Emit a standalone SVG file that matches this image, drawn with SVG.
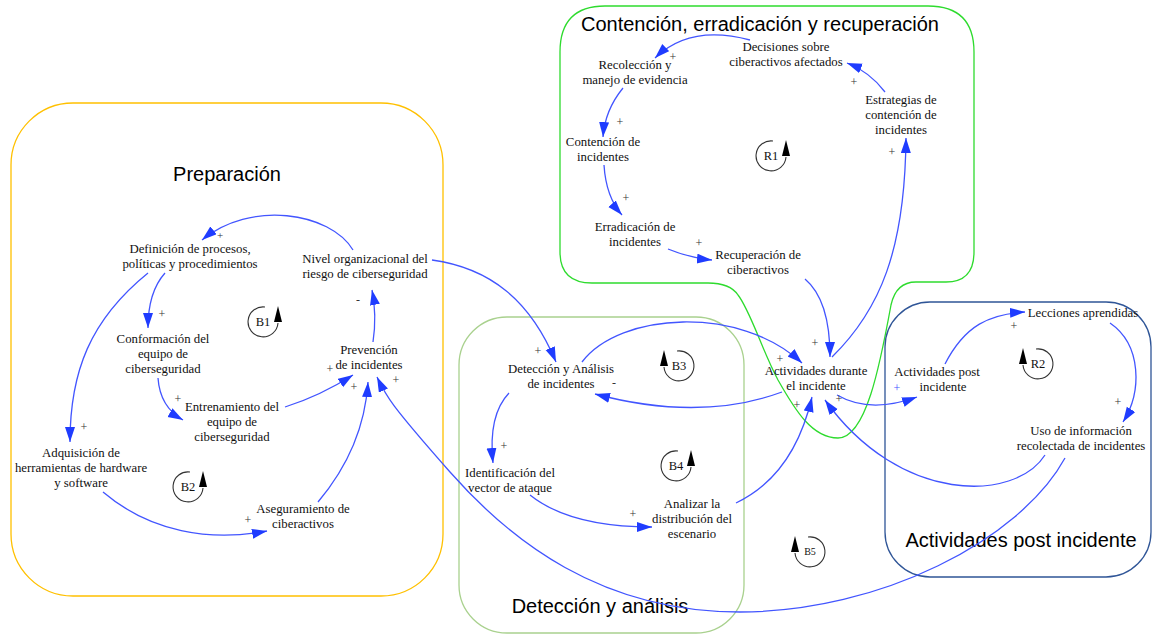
<svg xmlns="http://www.w3.org/2000/svg" width="1154" height="635" viewBox="0 0 1154 635">
<style>
.t{font-family:"Liberation Serif","Times New Roman",serif;font-size:12.8px;fill:#111;text-anchor:middle}
.ti{font-family:"Liberation Sans",Arial,sans-serif;font-size:20px;fill:#000;text-anchor:middle}
.c{fill:none;stroke:#4255ff;stroke-width:1.3;marker-end:url(#ah)}
.s{font-family:"Liberation Serif","Times New Roman",serif;font-size:12px;fill:#333;text-anchor:middle}
.lp{fill:none;stroke:#333;stroke-width:1.1}
.lt{font-family:"Liberation Serif","Times New Roman",serif;font-size:12.5px;fill:#111;text-anchor:middle}
</style>
<defs>
<marker id="ah" markerUnits="userSpaceOnUse" markerWidth="18" markerHeight="12" refX="15" refY="5" orient="auto">
<path d="M0,0 L15,5 L0,10 Z" fill="#1f3cff"/>
</marker>
<g id="loopR"><path class="lp" d="M 2,-15 A 15,15 0 1 0 15,1"/><path d="M 15,-16 L 11,0 L 19,0 Z" fill="#000"/></g>
<g id="loopL"><path class="lp" d="M -2,-15 A 15,15 0 1 1 -15,1"/><path d="M -15,-16 L -19,0 L -11,0 Z" fill="#000"/></g>
</defs>
<rect width="1154" height="635" fill="#fff"/>

<g id="boxes">
<rect x="11" y="103" width="432" height="493" rx="62" fill="none" stroke="#ffc000" stroke-width="1.3"/>
<path d="M 605,6 H 928 Q 974,6 974,52 V 252 Q 974,282 946,282 H 916 Q 896,282 891,305 C 880,365 866,438 838,438 C 812,438 795,410 778,380 C 762,350 750,310 738,295 Q 730,283 708,283 H 592 Q 560,283 560,252 V 52 Q 560,6 605,6 Z" fill="none" stroke="#2edb2e" stroke-width="1.3"/>
<rect x="459" y="317" width="285" height="316" rx="48" fill="none" stroke="#a9d18e" stroke-width="1.3"/>
<rect x="885" y="302" width="266" height="275" rx="45" fill="none" stroke="#2f5597" stroke-width="1.3"/>
<text class="ti" x="760" y="31">Contención, erradicación y recuperación</text>
<text class="ti" x="227" y="181">Preparación</text>
<text class="ti" x="600" y="613">Detección y análisis</text>
<text class="ti" x="1021" y="547">Actividades post incidente</text>
</g>

<g id="connectors">
<path class="c" d="M 750,40 Q 690,24 655,58"/>
<path class="c" d="M 623,88 Q 605,110 603,137"/>
<path class="c" d="M 604,165 Q 606,197 622,215"/>
<path class="c" d="M 668,249 Q 690,258 712,260"/>
<path class="c" d="M 805,279 Q 830,300 830,357"/>
<path class="c" d="M 832,357 C 880,310 905,250 906,138"/>
<path class="c" d="M 885,92 Q 870,72 847,63"/>
<path class="c" d="M 582,362 C 620,312 740,305 802,363"/>
<path class="c" d="M 782,392 Q 700,422 595,394"/>
<path class="c" d="M 432,260 C 490,268 530,300 556,362"/>
<path class="c" d="M 509,393 Q 488,415 493,463"/>
<path class="c" d="M 530,495 Q 570,527 652,527"/>
<path class="c" d="M 736,503 C 780,482 802,440 812,397"/>
<path class="c" d="M 837,395 Q 870,414 917,397"/>
<path class="c" d="M 945,364 C 965,325 990,314 1025,312"/>
<path class="c" d="M 1110,323 C 1142,345 1142,392 1123,422"/>
<path class="c" d="M 1045,455 C 1015,502 900,505 825,400"/>
<path class="c" d="M 1065,458 C 1020,540 880,612 740,612 S 510,540 450,472 S 386,396 377,377"/>
<path class="c" d="M 353,250 C 330,212 250,200 202,240"/>
<path class="c" d="M 165,273 Q 148,292 148,328"/>
<path class="c" d="M 148,273 C 90,320 70,372 70,442"/>
<path class="c" d="M 158,378 Q 160,407 183,420"/>
<path class="c" d="M 285,407 Q 320,396 353,375"/>
<path class="c" d="M 373,342 Q 377,315 372,290"/>
<path class="c" d="M 103,492 C 150,532 210,542 267,531"/>
<path class="c" d="M 318,502 C 345,470 365,430 368,382"/>
<g id="polarities">
<text class="s" x="673" y="61">+</text>
<text class="s" x="620" y="126">+</text>
<text class="s" x="626" y="202">+</text>
<text class="s" x="699" y="247">+</text>
<text class="s" x="815" y="347">+</text>
<text class="s" x="892" y="156">+</text>
<text class="s" x="854" y="86">+</text>
<text class="s" x="538" y="355">+</text>
<text class="s" x="614" y="387">-</text>
<text class="s" x="504" y="450">+</text>
<text class="s" x="633" y="518">+</text>
<text class="s" x="797" y="409">+</text>
<text class="s" x="780" y="363">+</text>
<text class="s" x="839" y="403">+</text>
<text class="s" x="897" y="392" style="fill:#4255ff">+</text>
<text class="s" x="1014" y="330">+</text>
<text class="s" x="1118" y="406">+</text>
<text class="s" x="396" y="384">+</text>
<text class="s" x="220" y="239" style="font-size:11px">+</text>
<text class="s" x="162" y="318">+</text>
<text class="s" x="84" y="431">+</text>
<text class="s" x="178" y="403">+</text>
<text class="s" x="330" y="373">+</text>
<text class="s" x="358" y="304">-</text>
<text class="s" x="248" y="524">+</text>
<text class="s" x="354" y="391">+</text>
</g>
</g>

<g id="n-decisiones"><text class="t" x="786" y="51">Decisiones sobre<tspan x="786" dy="15">ciberactivos afectados</tspan></text></g>
<g id="n-recoleccion"><text class="t" x="635" y="69">Recolección y<tspan x="635" dy="15">manejo de evidencia</tspan></text></g>
<g id="n-contencion"><text class="t" x="603" y="146">Contención de<tspan x="603" dy="15">incidentes</tspan></text></g>
<g id="n-erradicacion"><text class="t" x="635" y="231">Erradicación de<tspan x="635" dy="15">incidentes</tspan></text></g>
<g id="n-recuperacion"><text class="t" x="758" y="259">Recuperación de<tspan x="758" dy="15">ciberactivos</tspan></text></g>
<g id="n-estrategias"><text class="t" x="901" y="104">Estrategias de<tspan x="901" dy="15">contención de</tspan><tspan x="901" dy="15">incidentes</tspan></text></g>
<g id="n-durante"><text class="t" x="816" y="375">Actividades durante<tspan x="816" dy="15">el incidente</tspan></text></g>
<g id="n-post"><text class="t" x="937" y="376">Actividades post<tspan x="943" dy="15">incidente</tspan></text></g>
<g id="n-lecciones"><text class="t" x="1083" y="317">Lecciones aprendidas</text></g>
<g id="n-uso"><text class="t" x="1081" y="435">Uso de información<tspan x="1081" dy="15">recolectada de incidentes</tspan></text></g>
<g id="n-deteccion"><text class="t" x="561" y="373">Detección y Análisis<tspan x="561" dy="15">de incidentes</tspan></text></g>
<g id="n-identificacion"><text class="t" x="510" y="477">Identificación del<tspan x="510" dy="15">vector de ataque</tspan></text></g>
<g id="n-analizar"><text class="t" x="692" y="508">Analizar la<tspan x="692" dy="15">distribución del</tspan><tspan x="692" dy="15">escenario</tspan></text></g>
<g id="n-definicion"><text class="t" x="190" y="253">Definición de procesos,<tspan x="190" dy="15">políticas y procedimientos</tspan></text></g>
<g id="n-nivel"><text class="t" x="365" y="263">Nivel organizacional del<tspan x="365" dy="15">riesgo de ciberseguridad</tspan></text></g>
<g id="n-conformacion"><text class="t" x="163" y="343">Conformación del<tspan x="163" dy="15">equipo de</tspan><tspan x="163" dy="15">ciberseguridad</tspan></text></g>
<g id="n-prevencion"><text class="t" x="369" y="354">Prevención<tspan x="369" dy="15">de incidentes</tspan></text></g>
<g id="n-entrenamiento"><text class="t" x="232" y="411">Entrenamiento del<tspan x="232" dy="15">equipo de</tspan><tspan x="232" dy="15">ciberseguridad</tspan></text></g>
<g id="n-adquisicion"><text class="t" x="81" y="457">Adquisición de<tspan x="81" dy="15">herramientas de hardware</tspan><tspan x="81" dy="15">y software</tspan></text></g>
<g id="n-aseguramiento"><text class="t" x="303" y="513">Aseguramiento de<tspan x="303" dy="15">ciberactivos</tspan></text></g>

<g id="loops">
<use href="#loopR" x="771" y="156"/><text class="lt" x="771" y="160">R1</text>
<use href="#loopR" x="263" y="322"/><text class="lt" x="263" y="326">B1</text>
<use href="#loopR" x="188" y="487"/><text class="lt" x="188" y="491">B2</text>
<use href="#loopL" x="679" y="366"/><text class="lt" x="679" y="370">B3</text>
<use href="#loopR" x="676" y="466"/><text class="lt" x="676" y="470">B4</text>
<use href="#loopL" x="1038" y="364"/><text class="lt" x="1038" y="368">R2</text>
<use href="#loopL" x="810" y="552"/><text class="lt" x="810" y="555" style="font-size:10px">B5</text>
</g>
</svg>
